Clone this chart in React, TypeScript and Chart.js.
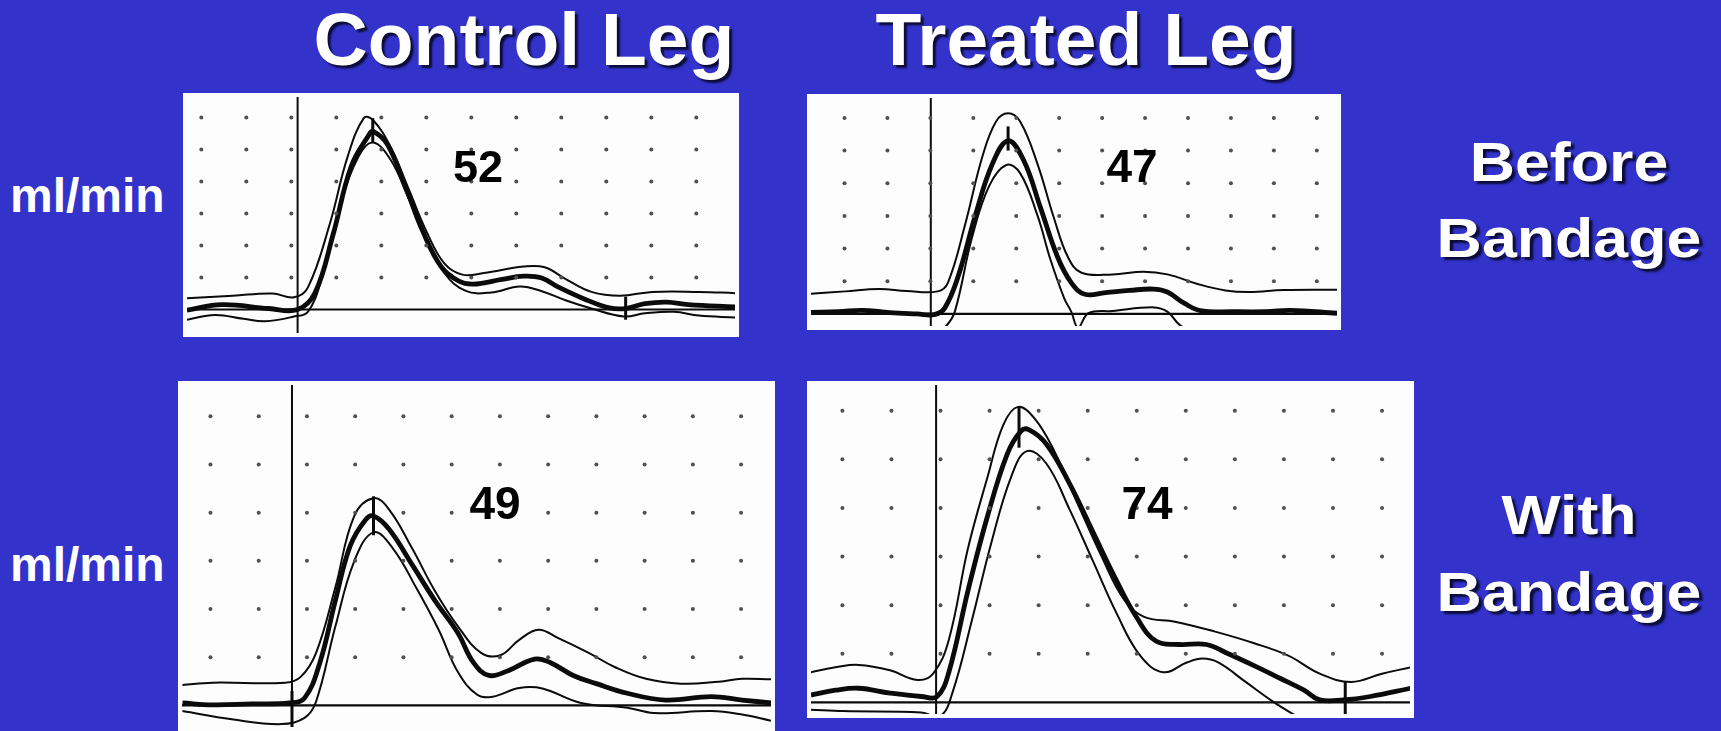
import React, { useEffect, useRef } from "react";
import { Chart, registerables } from "chart.js";

Chart.register(...registerables);

// ---------- Grid (dot) positions, in grid units ----------
const GRID_COLS = [0, 1, 2, 3, 4, 5, 6, 7, 8, 9, 10, 11];
const GRID_ROWS = [1, 2, 3, 4, 5, 6];

// ---------- Control Leg, Before Bandage (52) ----------
const TL_MEAN_X = [-0.32, 0.46, 1.5, 2.14, 2.53, 2.93, 3.33, 3.73, 3.81, 4.13, 4.53, 4.92, 5.33, 5.72, 6.04, 6.68, 7.16, 7.55, 7.95, 8.51, 9.07, 9.43, 9.86, 10.34, 10.82, 11.86];
const TL_MEAN_Y = [-0.02, 0.15, 0.03, 0.0, 0.53, 2.35, 4.47, 5.47, 5.57, 5.17, 3.86, 2.45, 1.34, 0.89, 0.79, 0.94, 1.04, 0.99, 0.69, 0.33, 0.05, 0.03, 0.18, 0.23, 0.15, 0.08];
const TL_UP_X = [-0.32, 0.7, 1.58, 2.06, 2.37, 2.85, 3.25, 3.61, 3.81, 4.21, 4.61, 5.0, 5.4, 5.8, 6.28, 7.16, 7.63, 8.11, 8.67, 9.31, 10.02, 11.06, 11.86];
const TL_UP_Y = [0.35, 0.43, 0.5, 0.38, 0.69, 2.65, 4.77, 5.98, 5.93, 5.07, 3.76, 2.45, 1.44, 1.09, 1.14, 1.34, 1.32, 0.94, 0.55, 0.43, 0.55, 0.55, 0.51];
const TL_LO_X = [-0.32, 0.3, 0.94, 1.42, 2.06, 2.37, 2.69, 3.09, 3.49, 3.81, 4.21, 4.61, 5.0, 5.4, 5.88, 6.44, 7.08, 7.55, 8.11, 8.67, 9.39, 9.86, 10.5, 11.06, 11.86];
const TL_LO_Y = [-0.32, -0.17, -0.29, -0.37, -0.22, -0.07, 1.04, 3.26, 4.77, 5.22, 4.67, 3.46, 2.25, 1.14, 0.58, 0.53, 0.72, 0.58, 0.28, 0.03, -0.22, -0.12, -0.07, -0.19, -0.25];
const TL_TICK_X = [3.81, 9.43];
const TL_TICK_LO = [5.22, -0.32];
const TL_TICK_HI = [5.98, 0.4];

// ---------- Treated Leg, Before Bandage (47) ----------
const TR_MEAN_X = [-0.78, -0.14, 0.41, 1.05, 1.69, 2.09, 2.33, 2.65, 3.05, 3.45, 3.81, 4.17, 4.57, 4.96, 5.28, 5.6, 6.08, 6.64, 7.2, 7.52, 7.92, 8.32, 9.03, 9.83, 10.39, 11.47];
const TR_MEAN_Y = [0.05, 0.07, 0.11, 0.04, 0.0, -0.02, 0.17, 1.16, 3.03, 4.61, 5.3, 4.71, 3.23, 1.75, 0.96, 0.6, 0.65, 0.72, 0.76, 0.67, 0.32, 0.09, 0.07, 0.07, 0.11, 0.02];
const TR_UP_X = [-0.78, 0.02, 0.81, 1.45, 2.17, 2.41, 2.81, 3.21, 3.53, 3.81, 4.09, 4.49, 4.88, 5.2, 5.52, 6.24, 6.96, 7.52, 8.24, 8.87, 9.43, 10.23, 11.47];
const TR_UP_Y = [0.62, 0.69, 0.76, 0.7, 0.69, 0.96, 2.74, 4.81, 5.89, 6.14, 5.89, 4.61, 2.93, 1.75, 1.26, 1.21, 1.29, 1.21, 0.91, 0.72, 0.67, 0.73, 0.74];
const TR_LO_X = [-0.78, 1.0, 2.2, 2.37, 2.57, 2.97, 3.37, 3.77, 4.09, 4.49, 4.8, 5.12, 5.28, 5.44, 5.68, 6.24, 7.2, 7.52, 7.84, 8.5, 11.47];
const TR_LO_Y = [-0.5, -0.5, -0.5, -0.37, 0.07, 2.34, 3.92, 4.56, 4.31, 3.03, 1.65, 0.47, 0.07, -0.42, 0.02, 0.09, 0.2, 0.07, -0.37, -0.7, -0.7];
const TR_TICK_X = [3.81];
const TR_TICK_LO = [5.0];
const TR_TICK_HI = [5.74];

// ---------- Control Leg, With Bandage (49) ----------
const BL_MEAN_X = [-0.58, 0.04, 0.84, 1.63, 1.95, 2.27, 2.59, 2.9, 3.22, 3.38, 3.7, 4.18, 4.65, 5.13, 5.45, 5.77, 6.17, 6.72, 7.04, 7.52, 8.0, 8.64, 9.43, 10.38, 11.02, 11.62];
const BL_MEAN_Y = [0.05, 0.01, 0.03, 0.05, 0.15, 0.89, 2.18, 3.32, 3.86, 3.93, 3.66, 2.92, 2.18, 1.5, 0.89, 0.62, 0.72, 0.96, 0.89, 0.62, 0.45, 0.25, 0.11, 0.18, 0.11, 0.05];
const BL_UP_X = [-0.58, 0.04, 1.55, 1.87, 2.19, 2.59, 2.98, 3.38, 3.7, 4.18, 4.65, 5.13, 5.61, 6.01, 6.4, 6.8, 7.2, 7.84, 8.39, 9.03, 9.75, 10.54, 11.02, 11.62];
const BL_UP_Y = [0.42, 0.47, 0.47, 0.59, 1.09, 2.45, 3.93, 4.3, 4.07, 3.26, 2.38, 1.64, 1.09, 1.04, 1.36, 1.57, 1.4, 1.09, 0.79, 0.55, 0.45, 0.49, 0.55, 0.54];
const BL_LO_X = [-0.58, 0.44, 1.47, 1.95, 2.19, 2.59, 2.98, 3.38, 3.78, 4.26, 4.73, 5.13, 5.53, 5.85, 6.4, 6.88, 7.68, 8.64, 9.19, 10.38, 11.02, 11.62];
const BL_LO_Y = [-0.12, -0.29, -0.39, -0.26, 0.08, 1.64, 2.99, 3.59, 3.26, 2.45, 1.57, 0.69, 0.22, 0.18, 0.36, 0.35, 0.05, -0.05, -0.16, -0.12, -0.19, -0.32];
const BL_TICK_X = [3.38, 1.69];
const BL_TICK_LO = [3.53, -0.45];
const BL_TICK_HI = [4.34, 0.3];

// ---------- Treated Leg, With Bandage (74) ----------
const BR_MEAN_X = [-0.64, -0.14, 0.33, 0.97, 1.61, 1.93, 2.17, 2.56, 2.96, 3.36, 3.64, 3.8, 4.16, 4.63, 5.11, 5.59, 5.99, 6.39, 6.86, 7.42, 7.82, 8.38, 8.93, 9.41, 9.73, 10.21, 10.76, 11.58];
const BR_MEAN_Y = [0.15, 0.25, 0.29, 0.19, 0.12, 0.12, 0.62, 2.3, 3.84, 5.11, 5.58, 5.61, 5.31, 4.5, 3.5, 2.5, 1.76, 1.26, 1.19, 1.19, 1.02, 0.76, 0.49, 0.25, 0.05, 0.05, 0.12, 0.29];
const BR_UP_X = [-0.64, -0.14, 0.33, 0.97, 1.53, 1.85, 2.17, 2.56, 2.96, 3.28, 3.58, 3.92, 4.32, 4.79, 5.27, 5.75, 6.15, 6.78, 7.58, 8.38, 9.09, 9.73, 10.37, 11.0, 11.58];
const BR_UP_Y = [0.62, 0.72, 0.77, 0.66, 0.46, 0.59, 1.29, 3.17, 4.64, 5.71, 6.08, 5.84, 5.17, 4.1, 3.03, 2.1, 1.76, 1.66, 1.46, 1.22, 0.96, 0.59, 0.42, 0.59, 0.72];
const BR_LO_X = [-0.64, 0.02, 1.61, 2.0, 2.25, 2.64, 3.04, 3.44, 3.76, 4.16, 4.63, 5.11, 5.59, 6.07, 6.54, 7.02, 7.34, 7.66, 8.22, 8.77, 9.25, 9.8, 11.58];
const BR_LO_Y = [-0.15, -0.18, -0.21, -0.28, 0.22, 1.69, 3.3, 4.64, 5.17, 4.91, 3.97, 2.9, 1.83, 0.96, 0.62, 0.82, 0.9, 0.82, 0.42, 0.02, -0.28, -0.6, -0.6];
const BR_TICK_X = [3.6, 10.25];
const BR_TICK_LO = [5.24, -0.25];
const BR_TICK_HI = [6.08, 0.42];

// ---------- Labels ----------
const COLUMN_TITLES = ["Control Leg", "Treated Leg"];
const ROW_TITLES = [["Before", "Bandage"], ["With", "Bandage"]];
const UNIT_LABEL = "ml/min";
const FLOW_VALUES = ["52", "47", "49", "74"];

type PanelCfg = {
  left: number; top: number; w: number; h: number;
  xMin: number; xMax: number; yMin: number; yMax: number;
  onset: number;
  meanX: number[]; meanY: number[];
  upX: number[]; upY: number[];
  loX: number[]; loY: number[];
  tickX: number[]; tickLo: number[]; tickHi: number[];
  value: string; valueX: number; valueBase: number; valueSize: number;
};

const PANELS: PanelCfg[] = [
  {
    left: 183, top: 93, w: 556, h: 244, xMin: -0.318, xMax: 11.86, yMin: -0.735, yMax: 6.64, onset: 2.14,
    meanX: TL_MEAN_X, meanY: TL_MEAN_Y, upX: TL_UP_X, upY: TL_UP_Y, loX: TL_LO_X, loY: TL_LO_Y,
    tickX: TL_TICK_X, tickLo: TL_TICK_LO, tickHi: TL_TICK_HI,
    value: FLOW_VALUES[0], valueX: 478, valueBase: 182, valueSize: 45,
  },
  {
    left: 807, top: 94, w: 534, h: 236, xMin: -0.78, xMax: 11.47, yMin: -0.37, yMax: 6.61, onset: 2.01,
    meanX: TR_MEAN_X, meanY: TR_MEAN_Y, upX: TR_UP_X, upY: TR_UP_Y, loX: TR_LO_X, loY: TR_LO_Y,
    tickX: TR_TICK_X, tickLo: TR_TICK_LO, tickHi: TR_TICK_HI,
    value: FLOW_VALUES[1], valueX: 1132, valueBase: 182, valueSize: 46,
  },
  {
    left: 178, top: 381, w: 597, h: 350, xMin: -0.59, xMax: 11.62, yMin: -0.45, yMax: 6.65, onset: 1.69,
    meanX: BL_MEAN_X, meanY: BL_MEAN_Y, upX: BL_UP_X, upY: BL_UP_Y, loX: BL_LO_X, loY: BL_LO_Y,
    tickX: BL_TICK_X, tickLo: BL_TICK_LO, tickHi: BL_TICK_HI,
    value: FLOW_VALUES[2], valueX: 495, valueBase: 519, valueSize: 46,
  },
  {
    left: 807, top: 381, w: 607, h: 337, xMin: -0.64, xMax: 11.57, yMin: -0.24, yMax: 6.53, onset: 1.91,
    meanX: BR_MEAN_X, meanY: BR_MEAN_Y, upX: BR_UP_X, upY: BR_UP_Y, loX: BR_LO_X, loY: BR_LO_Y,
    tickX: BR_TICK_X, tickLo: BR_TICK_LO, tickHi: BR_TICK_HI,
    value: FLOW_VALUES[3], valueX: 1147, valueBase: 519, valueSize: 46,
  },
];

const INK = "#0b0b0b";
const FONT = '"Liberation Sans", Arial, Helvetica, sans-serif';
const BLUE = "#3333CC";

const pts = (xs: number[], ys: number[]) => xs.map((x, i) => ({ x, y: ys[i] }));

function Panel({ cfg }: { cfg: PanelCfg }) {
  const ref = useRef<HTMLCanvasElement | null>(null);
  useEffect(() => {
    if (!ref.current) return;
    const dots: { x: number; y: number }[] = [];
    GRID_COLS.forEach((c) => GRID_ROWS.forEach((r) => dots.push({ x: c, y: r })));
    const straight = { tension: 0, cubicInterpolationMode: "default" as const, pointRadius: 0 };
    const curve = { tension: 0.4, cubicInterpolationMode: "default" as const, pointRadius: 0, borderColor: INK, borderJoinStyle: "round" as const };
    const ticks = cfg.tickX.map((x, i) => ({
      data: [{ x, y: cfg.tickLo[i] }, { x, y: cfg.tickHi[i] }],
      borderColor: INK, borderWidth: 3, ...straight,
    }));
    const chart = new Chart(ref.current, {
      type: "line",
      data: {
        datasets: [
          {
            data: dots, showLine: false, pointRadius: 2, pointBorderWidth: 0,
            pointBackgroundColor: "#505050", borderColor: "#505050",
          },
          { data: [{ x: cfg.xMin, y: 0 }, { x: cfg.xMax, y: 0 }], borderColor: INK, borderWidth: 2.2, ...straight },
          { data: [{ x: cfg.onset, y: cfg.yMin - 1 }, { x: cfg.onset, y: cfg.yMax + 1 }], borderColor: INK, borderWidth: 2, ...straight },
          { data: pts(cfg.upX, cfg.upY), borderWidth: 2, ...curve },
          { data: pts(cfg.loX, cfg.loY), borderWidth: 2, ...curve },
          { data: pts(cfg.meanX, cfg.meanY), borderWidth: 4.8, ...curve },
          ...ticks,
        ] as any,
      },
      options: {
        animation: false,
        responsive: false,
        events: [],
        layout: { padding: 0 },
        plugins: { legend: { display: false }, tooltip: { enabled: false } },
        scales: {
          x: { type: "linear", min: cfg.xMin, max: cfg.xMax, display: false },
          y: { type: "linear", min: cfg.yMin, max: cfg.yMax, display: false },
        },
      },
    });
    return () => chart.destroy();
  }, [cfg]);
  return (
    <canvas
      ref={ref}
      width={cfg.w}
      height={cfg.h}
      style={{ position: "absolute", left: cfg.left, top: cfg.top, width: cfg.w, height: cfg.h, background: "#fdfdfd" }}
    />
  );
}

const BASE = 0.8465; // baseline offset (em) for line-height 1

function Txt({ text, cx, base, size, shadow, sx = 1, left }: { text: string; cx?: number; base: number; size: number; shadow?: boolean; sx?: number; left?: number }) {
  const style: React.CSSProperties = {
    position: "absolute",
    top: base - BASE * size,
    fontFamily: FONT,
    fontWeight: 700,
    fontSize: size,
    lineHeight: 1,
    color: "#ffffff",
    whiteSpace: "nowrap",
    textShadow: shadow ? "3px 3px 2px #0c0c38" : "none",
  };
  if (left !== undefined) {
    style.left = left;
  } else {
    style.left = (cx as number) - 300;
    style.width = 600;
    style.textAlign = "center";
    style.transform = `scaleX(${sx})`;
  }
  return <div style={style}>{text}</div>;
}

export default function App() {
  return (
    <div style={{ position: "fixed", left: 0, top: 0, width: 1721, height: 731, background: BLUE, overflow: "hidden" }}>
      <Txt text={COLUMN_TITLES[0]} cx={524} base={65} size={75} shadow />
      <Txt text={COLUMN_TITLES[1]} cx={1086} base={65} size={75} shadow />
      <Txt text={UNIT_LABEL} left={10} base={213} size={48} />
      <Txt text={UNIT_LABEL} left={10} base={582} size={48} />
      <Txt text={ROW_TITLES[0][0]} cx={1569} base={182} size={55} shadow sx={1.14} />
      <Txt text={ROW_TITLES[0][1]} cx={1569} base={258} size={55} shadow sx={1.14} />
      <Txt text={ROW_TITLES[1][0]} cx={1569} base={535} size={55} shadow sx={1.14} />
      <Txt text={ROW_TITLES[1][1]} cx={1569} base={612} size={55} shadow sx={1.14} />
      {PANELS.map((p, i) => (
        <Panel key={i} cfg={p} />
      ))}
      {PANELS.map((p, i) => (
        <div
          key={"v" + i}
          style={{
            position: "absolute",
            left: p.valueX - 60,
            width: 120,
            textAlign: "center",
            top: p.valueBase - BASE * p.valueSize,
            fontFamily: FONT,
            fontWeight: 700,
            fontSize: p.valueSize,
            lineHeight: 1,
            color: "#000",
          }}
        >
          {p.value}
        </div>
      ))}
    </div>
  );
}
